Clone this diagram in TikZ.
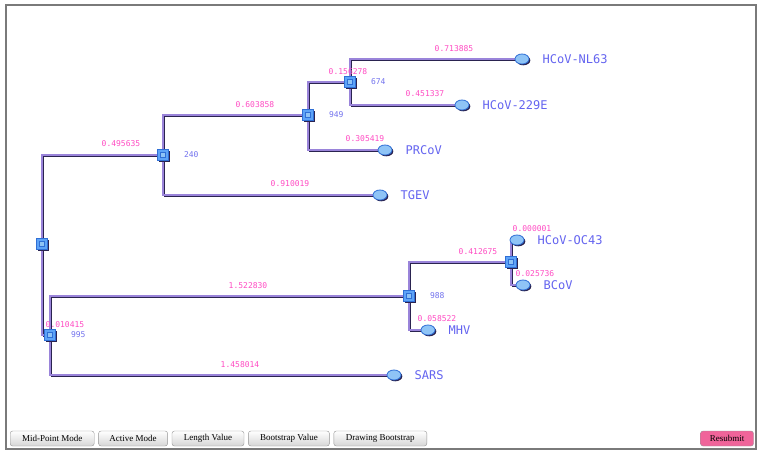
\documentclass[tikz,border=0pt]{standalone}
\usepackage{fontspec}
\setmainfont{Liberation Serif}
\newfontfamily\phymono{DejaVu Sans Mono}
\usetikzlibrary{positioning,shapes.geometric,shadows,backgrounds}
\definecolor{PhyLine}{HTML}{9A84DA}
\definecolor{PhyShade}{HTML}{2A2350}
\definecolor{PhyPink}{HTML}{FF4DC4}
\definecolor{PhyBoot}{HTML}{7373EE}
\definecolor{PhyName}{HTML}{6464F0}
\definecolor{PhyNode}{HTML}{5DA3F7}
\definecolor{PhyNodeEdge}{HTML}{2F6FD6}
\definecolor{PhyLeaf}{HTML}{8FC4F6}
\definecolor{PhyFrame}{HTML}{7A7A7A}
\definecolor{PhyBtn}{HTML}{D6D6D6}
\definecolor{PhyResub}{HTML}{F0649A}

\begin{document}
\begin{tikzpicture}[x=1pt,y=-1pt,node distance=15pt]
  \tikzstyle{fork}=[rectangle,minimum size=11,inner sep=0,fill=PhyNode,draw=PhyNodeEdge,line width=0.8,
    drop shadow={shadow xshift=1.2pt,shadow yshift=-1.2pt,fill=PhyShade,opacity=1},
    path picture={\draw[PhyNodeEdge,fill=PhyLeaf,line width=0.7] (path picture bounding box.center)
      +(-2.5pt,-2.5pt) rectangle +(2.5pt,2.5pt);}]
  \tikzstyle{taxon}=[ellipse,minimum width=14,minimum height=10,inner sep=0,fill=PhyLeaf,
    draw=PhyNodeEdge,line width=0.8,drop shadow={shadow xshift=1.3pt,shadow yshift=-1.3pt,fill=PhyShade,opacity=1}]
  \tikzstyle{taxname}=[inner sep=0,text=PhyName,font=\phymono\fontsize{12}{14}\selectfont]
  \tikzstyle{bootval}=[inner sep=0,text=PhyBoot,font=\phymono\fontsize{8}{9}\selectfont]
  \tikzstyle{lenval}=[inner sep=0,text=PhyPink,font=\phymono\fontsize{8}{9}\selectfont]
  \tikzstyle{branch}=[draw=PhyLine,line width=1.8,
    preaction={draw=PhyShade,line width=0.9,transform canvas={shift={(1.2,1.2)}}}]
  \tikzstyle{btn}=[draw=PhyFrame!80,rounded corners=2.5pt,minimum height=15,inner sep=0,
    top color=white,bottom color=PhyBtn,font=\fontsize{9}{10}\selectfont]
  \useasboundingbox (0,0) rectangle (758,451);

  % inner nodes
  \node[fork] (root) at (42,244) {};
  \node[fork] (n240) at (163,155) {};
  \node[fork] (n949) at (308,115) {};
  \node[fork] (n674) at (350,82) {};
  \node[fork] (n995) at (50,335) {};
  \node[fork] (n988) at (409,296) {};
  \node[fork] (noc) at (511,262) {};

  % leaves
  \node[taxon] (nl63) at (522,59) {};
  \node[taxon] (e229) at (462,105) {};
  \node[taxon] (prcov) at (385,150) {};
  \node[taxon] (tgev) at (380,195) {};
  \node[taxon] (oc43) at (517,240) {};
  \node[taxon] (bcov) at (523,285) {};
  \node[taxon] (mhv) at (428,330) {};
  \node[taxon] (sars) at (394,375) {};

  \node[taxname,right=13pt of nl63] (tnl63) {HCoV-NL63};
  \node[taxname,right=13pt of e229] (te229) {HCoV-229E};
  \node[taxname,right=13pt of prcov] (tprcov) {PRCoV};
  \node[taxname,right=13pt of tgev] (ttgev) {TGEV};
  \node[taxname,right=13pt of oc43] (toc43) {HCoV-OC43};
  \node[taxname,right=13pt of bcov] (tbcov) {BCoV};
  \node[taxname,right=13pt of mhv] (tmhv) {MHV};
  \node[taxname,right=13pt of sars] (tsars) {SARS};

  % bootstrap values
  \node[bootval,right=of n240] (b240) {240};
  \node[bootval,right=of n949] (b949) {949};
  \node[bootval,right=of n674] (b674) {674};
  \node[bootval,right=of n988] (b988) {988};
  \node[bootval,right=of n995] (b995) {995};

  % branch lengths
  \node[lenval] (lnl63) at (454,49) {0.713885};
  \node[lenval] (l674) at (348,72) {0.156278};
  \node[lenval] (le229) at (425,94) {0.451337};
  \node[lenval] (l949) at (255,105) {0.603858};
  \node[lenval] (lprcov) at (365,139) {0.305419};
  \node[lenval] (l240) at (121,144) {0.495635};
  \node[lenval] (ltgev) at (290,184) {0.910019};
  \node[lenval] (loc43) at (532,229) {0.000001};
  \node[lenval] (lnoc) at (478,252) {0.412675};
  \node[lenval] (lbcov) at (535,274) {0.025736};
  \node[lenval] (l988) at (248,286) {1.522830};
  \node[lenval] (lmhv) at (437,319) {0.058522};
  \node[lenval] (l995) at (65,325) {0.010415};
  \node[lenval] (lsars) at (240,365) {1.458014};

  % buttons
  \node[btn,minimum width=84,anchor=west] (midpt) at (10,438.5) {Mid-Point Mode};
  \node[btn,minimum width=69,right=4pt of midpt] (active) {Active Mode};
  \node[btn,minimum width=72,right=4pt of active] (lenbtn) {Length Value};
  \node[btn,minimum width=81,right=4pt of lenbtn] (bootbtn) {Bootstrap Value};
  \node[btn,minimum width=93,right=4pt of bootbtn] (drawbtn) {Drawing Bootstrap};
  \node[btn,top color=PhyResub,bottom color=PhyResub,minimum width=53] (resub) at (727,438.5) {Resubmit};

  \begin{scope}[on background layer]
    \fill[white] (0,0) rectangle (758,451);
    \draw[PhyFrame,line width=1.6] (6,5) rectangle (756,449);
    \draw[branch] (root) |- (n240);
    \draw[branch] (root) |- (n995);
    \draw[branch] (n240) |- (n949);
    \draw[branch] (n240) |- (tgev);
    \draw[branch] (n949) |- (n674);
    \draw[branch] (n949) |- (prcov);
    \draw[branch] (n674) |- (nl63);
    \draw[branch] (n674) |- (e229);
    \draw[branch] (n995) |- (n988);
    \draw[branch] (n995) |- (sars);
    \draw[branch] (n988) |- (noc);
    \draw[branch] (n988) |- (mhv);
    \draw[branch] (noc) |- (oc43);
    \draw[branch] (noc) |- (bcov);
  \end{scope}
\end{tikzpicture}
\end{document}
